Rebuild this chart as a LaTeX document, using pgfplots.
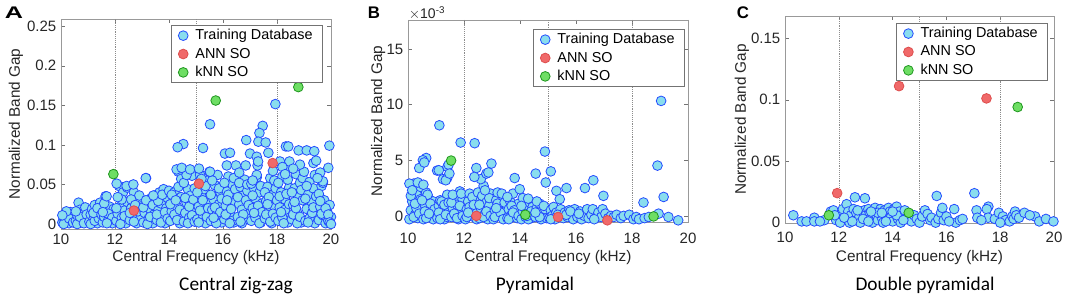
\documentclass[border=0pt]{standalone}
\usepackage{pgfplots}
\pgfplotsset{compat=1.18}
\usepackage{fontspec}
\setmainfont{Liberation Sans}
\newfontfamily\calibri{Carlito}
\definecolor{tdfill}{RGB}{137,221,238}
\definecolor{tdedge}{RGB}{35,75,255}
\definecolor{annfill}{RGB}{240,105,105}
\definecolor{annedge}{RGB}{222,78,78}
\definecolor{knnfill}{RGB}{110,222,100}
\definecolor{knnedge}{RGB}{30,150,30}
\definecolor{txt}{RGB}{38,38,38}
\pgfplotsset{
  panel/.style={
    scale only axis, xmin=10, xmax=20, xtick={10,12,...,20},
    axis line style={black!40}, tick style={black!55},
    tick align=inside, major tick length=3pt,
    extra x ticks={12,15,18}, extra x tick labels={},
    extra x tick style={grid=major, major tick length=0pt},
    major grid style={densely dotted, black!45, line width=0.4pt},
    ticklabel style={font=\fontsize{11.25}{13}\selectfont, text=txt},
    label style={font=\fontsize{11.5}{13}\selectfont, text=txt},
    xlabel={Central Frequency (kHz)},
    ylabel={Normalized Band Gap},
    ylabel style={anchor=center, rotate=0},
    xlabel style={anchor=center},
    clip=false,
    scaled ticks=false,
    /pgf/number format/assume math mode=true,
    legend style={font=\fontsize{10.8}{12}\selectfont, draw=black!55, line width=0.5pt,
      inner xsep=5.5pt, inner ysep=1pt, row sep=0.6pt, text=black,
      /tikz/every odd column/.append style={column sep=3.5pt}},
    legend cell align=left,
  },
  td/.style={only marks, mark=*, mark size=3.65pt, mark options={fill=tdfill, draw=tdedge, line width=0.6pt}},
  ann/.style={only marks, mark=*, mark size=3.65pt, mark options={fill=annfill, draw=annedge, line width=0.6pt}},
  knn/.style={only marks, mark=*, mark size=3.65pt, mark options={fill=knnfill, draw=knnedge, line width=0.6pt}},
}
\begin{document}
\begin{tikzpicture}
\useasboundingbox (0,0) rectangle (798.75pt,225.75pt);
% ---------------- Panel A ----------------
\begin{axis}[panel, at={(45.75pt,54pt)}, anchor=south west,
  width=202.5pt, height=157.5pt,
  ymin=-0.0063, ymax=0.259,
  ytick={0,0.05,0.1,0.15,0.2,0.25}, yticklabels={0,0.05,0.1,0.15,0.2,0.25},
  xlabel style={at={(axis description cs:0.5,-0.138)}},
  ylabel style={at={(axis description cs:-0.167,0.5)}},
  legend style={at={(axis description cs:0.97,0.971)}, anchor=north east}]
\addplot[td] coordinates {
(10.05,0.002)(10.1,0.008)(10.15,0.013)(10.2,0.004)(10.25,0.010)(10.3,0.001)(10.35,0.015)(10.4,0.006)(10.45,0.012)(10.1,0.0)(10.3,0.007)(10.45,0.002)(10.2,0.016)(10.05,0.011)
(10.55,0.004)(10.6,0.011)(10.65,0.027)(10.7,0.018)(10.75,0.002)(10.8,0.008)(10.85,0.014)(10.9,0.021)(10.95,0.005)(10.6,0.0)(10.7,0.009)(10.85,0.001)(10.95,0.012)(10.55,0.016)
(11.05,0.003)(11.1,0.012)(11.15,0.019)(11.2,0.006)(11.25,0.024)(11.3,0.010)(11.35,0.001)(11.4,0.015)(11.45,0.027)(11.1,0.0)(11.25,0.004)(11.4,0.007)(11.2,0.014)(11.35,0.020)(11.5,0.012)
(11.55,0.002)(11.6,0.009)(11.65,0.035)(11.7,0.017)(11.75,0.005)(11.8,0.022)(11.85,0.012)(11.9,0.001)(11.95,0.019)(11.6,0.026)(11.75,0.013)(11.9,0.008)(11.55,0.015)(11.7,0.001)
(12.05,0.004)(12.1,0.013)(12.15,0.048)(12.2,0.022)(12.25,0.008)(12.3,0.040)(12.35,0.017)(12.4,0.001)(12.45,0.028)(12.05,0.020)(12.2,0.0)(12.35,0.010)(12.45,0.046)(12.25,0.031)(12.1,0.034)
(12.55,0.005)(12.6,0.020)(12.65,0.049)(12.7,0.040)(12.75,0.011)(12.8,0.001)(12.85,0.028)(12.9,0.036)(12.95,0.008)(12.55,0.014)(12.7,0.003)(12.85,0.016)(12.6,0.031)(12.95,0.022)(12.75,0.024)
(13.05,0.002)(13.1,0.014)(13.15,0.058)(13.2,0.025)(13.25,0.007)(13.3,0.019)(13.35,0.033)(13.4,0.001)(13.45,0.012)(13.05,0.021)(13.2,0.0)(13.3,0.009)(13.45,0.036)(13.15,0.030)(13.4,0.024)
(13.55,0.005)(13.6,0.017)(13.65,0.040)(13.7,0.026)(13.75,0.010)(13.8,0.044)(13.85,0.001)(13.9,0.020)(13.95,0.033)(13.55,0.012)(13.7,0.002)(13.85,0.015)(13.6,0.029)(13.95,0.007)(13.75,0.037)(14.0,0.042)
(14.05,0.004)(14.1,0.016)(14.15,0.028)(14.2,0.040)(14.25,0.009)(14.3,0.022)(14.35,0.066)(14.4,0.001)(14.45,0.034)(14.05,0.025)(14.2,0.012)(14.35,0.047)(14.1,0.037)(14.4,0.018)(14.25,0.030)(14.45,0.057)(14.3,0.005)
(14.55,0.003)(14.6,0.014)(14.65,0.027)(14.7,0.044)(14.75,0.008)(14.8,0.036)(14.85,0.061)(14.9,0.019)(14.95,0.045)(14.55,0.052)(14.6,0.033)(14.7,0.001)(14.75,0.022)(14.9,0.031)(14.65,0.062)(14.85,0.011)(14.95,0.003)
(15.05,0.006)(15.1,0.022)(15.15,0.062)(15.2,0.035)(15.25,0.012)(15.3,0.044)(15.35,0.001)(15.4,0.027)(15.45,0.055)(15.05,0.040)(15.15,0.017)(15.25,0.030)(15.35,0.048)(15.4,0.009)(15.1,0.002)(15.45,0.020)(15.2,0.057)
(15.55,0.004)(15.6,0.018)(15.65,0.031)(15.7,0.049)(15.75,0.011)(15.8,0.062)(15.85,0.025)(15.9,0.040)(15.95,0.002)(15.55,0.037)(15.6,0.055)(15.7,0.021)(15.75,0.001)(15.85,0.045)(15.9,0.015)(15.65,0.008)(15.95,0.032)(15.5,0.066)
(16.05,0.006)(16.1,0.023)(16.15,0.041)(16.2,0.060)(16.25,0.014)(16.3,0.033)(16.35,0.050)(16.4,0.002)(16.45,0.027)(16.05,0.052)(16.1,0.012)(16.2,0.037)(16.3,0.019)(16.35,0.004)(16.45,0.044)(16.15,0.030)(16.4,0.058)(16.25,0.001)
(16.55,0.009)(16.6,0.025)(16.65,0.047)(16.7,0.001)(16.75,0.036)(16.8,0.056)(16.85,0.016)(16.9,0.042)(16.95,0.006)(16.55,0.034)(16.6,0.052)(16.7,0.018)(16.75,0.012)(16.85,0.030)(16.95,0.024)(16.65,0.003)(16.9,0.050)
(17.05,0.004)(17.1,0.020)(17.15,0.045)(17.2,0.032)(17.25,0.059)(17.3,0.011)(17.35,0.040)(17.4,0.002)(17.45,0.026)(17.05,0.051)(17.1,0.036)(17.2,0.008)(17.3,0.023)(17.4,0.048)(17.45,0.015)(17.15,0.014)(17.35,0.001)(17.25,0.062)
(17.55,0.007)(17.6,0.029)(17.65,0.047)(17.7,0.016)(17.75,0.058)(17.8,0.001)(17.85,0.037)(17.9,0.022)(17.95,0.045)(17.55,0.040)(17.6,0.012)(17.7,0.034)(17.75,0.003)(17.85,0.013)(17.9,0.055)(17.65,0.025)(17.95,0.008)(18.0,0.030)
(18.05,0.004)(18.1,0.021)(18.15,0.040)(18.2,0.060)(18.25,0.012)(18.3,0.031)(18.35,0.069)(18.4,0.002)(18.45,0.046)(18.05,0.052)(18.1,0.035)(18.2,0.008)(18.3,0.018)(18.35,0.038)(18.45,0.025)(18.15,0.015)(18.4,0.056)(18.25,0.001)
(18.55,0.006)(18.6,0.024)(18.65,0.045)(18.7,0.063)(18.75,0.014)(18.8,0.035)(18.85,0.052)(18.9,0.002)(18.95,0.030)(18.55,0.040)(18.6,0.012)(18.7,0.020)(18.75,0.001)(18.85,0.009)(18.95,0.058)(18.65,0.028)(18.9,0.043)(19.0,0.066)
(19.05,0.004)(19.1,0.019)(19.15,0.037)(19.2,0.053)(19.25,0.010)(19.3,0.027)(19.35,0.045)(19.4,0.001)(19.45,0.016)(19.05,0.032)(19.1,0.048)(19.2,0.007)(19.3,0.014)(19.35,0.021)(19.45,0.035)(19.15,0.002)(19.4,0.062)
(19.55,0.005)(19.6,0.022)(19.65,0.048)(19.7,0.011)(19.75,0.030)(19.8,0.001)(19.85,0.016)(19.9,0.004)(19.95,0.024)(20.0,0.009)(19.55,0.038)(19.65,0.013)(19.7,0.052)(19.8,0.020)(19.9,0.012)(19.95,0.002)(20.0,0.0)(19.6,0.029)
(17.94,0.1515)(15.52,0.126)(17.47,0.124)(17.35,0.115)(17.31,0.104)(17.58,0.103)(16.86,0.106)(14.53,0.101)(14.32,0.097)(15.26,0.096)(18.33,0.098)(18.42,0.098)(19.94,0.099)(18.8,0.093)(19.1,0.093)(19.38,0.092)(17.68,0.090)(16.07,0.089)(16.26,0.090)(17.0,0.089)(17.25,0.085)(16.14,0.074)(16.48,0.074)(16.84,0.074)(17.28,0.074)(17.3,0.079)(18.11,0.079)(18.46,0.079)(18.85,0.075)(19.35,0.077)(19.45,0.080)(19.9,0.071)(14.28,0.069)(14.47,0.071)(14.78,0.069)(15.11,0.070)(15.52,0.066)(13.14,0.058)(12.06,0.051)(12.43,0.048)(12.68,0.050)(11.69,0.035)(13.42,0.036)(18.2,0.072)(18.6,0.070)(19.6,0.065)(19.7,0.054)(19.5,0.058)(18.3,0.063)(17.85,0.067)(16.6,0.065)(17.1,0.055)
};
\addlegendentry{Training Database}
\addplot[ann] coordinates {(12.7,0.017)(15.11,0.051)(17.84,0.077)};
\addlegendentry{ANN SO}
\addplot[knn] coordinates {(11.94,0.063)(15.73,0.156)(18.79,0.173)};
\addlegendentry{kNN SO}
\end{axis}
% ---------------- Panel B ----------------
\begin{axis}[panel, at={(306pt,59.25pt)}, anchor=south west,
  width=210pt, height=151.5pt,
  ymin=-0.55, ymax=17.6,
  ytick={0,5,10,15},
  xticklabel style={yshift=-4.5pt},
  xlabel style={at={(axis description cs:0.5,-0.178)}},
  ylabel style={at={(axis description cs:-0.107,0.5)}},
  legend style={at={(axis description cs:0.989,0.955)}, anchor=north east}]
\addplot[td] coordinates {
(10.05,-0.3)(10.1,0.5)(10.15,1.3)(10.2,2.9)(10.25,0.1)(10.3,2.0)(10.35,-0.2)(10.4,0.9)(10.45,2.6)(10.1,1.8)(10.2,-0.1)(10.3,0.7)(10.45,1.5)(10.05,2.9)(10.35,3.0)(10.25,1.1)(10.4,0.2)(10.15,2.3)
(10.55,-0.3)(10.6,1.0)(10.65,2.1)(10.7,0.3)(10.75,1.5)(10.8,-0.1)(10.85,0.8)(10.9,1.3)(10.95,0.0)(10.55,2.8)(10.6,0.4)(10.7,1.9)(10.8,1.1)(10.9,-0.3)(10.95,0.6)(10.65,-0.2)(10.75,0.2)(10.5,1.4)
(11.05,-0.2)(11.1,0.9)(11.15,1.4)(11.2,0.2)(11.25,1.0)(11.3,-0.3)(11.35,0.6)(11.4,1.9)(11.45,0.0)(11.1,0.3)(11.2,1.3)(11.3,1.0)(11.4,-0.1)(11.45,1.2)(11.15,-0.3)(11.35,0.1)(11.25,3.3)
(11.55,-0.1)(11.6,0.7)(11.65,1.6)(11.7,0.0)(11.75,1.0)(11.8,-0.3)(11.85,2.2)(11.9,0.5)(11.95,1.5)(11.55,1.2)(11.65,0.2)(11.75,-0.2)(11.85,0.9)(11.95,0.0)(11.6,1.9)(11.9,2.0)
(12.05,-0.3)(12.1,0.6)(12.15,1.3)(12.2,2.0)(12.25,0.1)(12.3,0.9)(12.35,-0.1)(12.4,1.5)(12.45,0.4)(12.1,-0.1)(12.2,0.8)(12.3,1.7)(12.45,-0.3)(12.15,0.3)(12.35,1.0)(12.5,2.1)
(12.55,-0.2)(12.6,0.7)(12.65,1.8)(12.7,2.7)(12.75,0.2)(12.8,1.2)(12.85,-0.3)(12.9,0.9)(12.95,2.0)(12.6,3.3)(12.7,-0.1)(12.8,0.4)(12.9,1.6)(12.55,1.0)(12.75,2.3)(12.95,0.0)
(13.05,-0.3)(13.1,0.5)(13.15,1.4)(13.2,2.1)(13.25,0.1)(13.3,0.9)(13.35,-0.1)(13.4,1.7)(13.45,0.4)(13.1,-0.1)(13.2,1.1)(13.3,0.3)(13.4,-0.3)(13.45,1.2)(13.15,0.7)(13.35,2.0)
(13.55,-0.2)(13.6,0.6)(13.65,1.3)(13.7,0.1)(13.75,2.0)(13.8,-0.1)(13.85,0.8)(13.9,0.3)(13.95,1.1)(13.6,-0.3)(13.7,0.9)(13.8,0.5)(13.9,-0.2)(13.55,1.7)(13.75,0.3)(13.95,0.0)
(14.05,-0.3)(14.1,0.4)(14.15,1.0)(14.2,-0.1)(14.25,0.6)(14.3,0.2)(14.35,1.2)(14.4,-0.2)(14.45,0.8)(14.1,1.6)(14.3,-0.3)(14.4,0.4)(14.05,0.9)(14.25,0.0)
(14.55,-0.1)(14.6,0.7)(14.65,0.2)(14.7,1.1)(14.75,-0.3)(14.8,0.4)(14.85,0.0)(14.9,0.6)(14.95,-0.2)(14.6,1.3)(14.7,-0.1)(14.85,0.9)(14.55,0.3)
(15.05,-0.2)(15.1,0.5)(15.15,0.0)(15.2,0.8)(15.25,-0.3)(15.3,0.3)(15.4,-0.1)(15.45,0.6)(15.1,-0.3)(15.35,0.1)
(15.55,-0.2)(15.6,0.3)(15.7,-0.1)(15.75,0.5)(15.85,0.0)(15.9,-0.3)(15.95,0.6)(15.65,0.1)(15.8,0.4)
(16.05,-0.1)(16.15,0.4)(16.2,-0.3)(16.3,0.0)(16.4,0.6)(16.45,-0.2)(16.1,0.2)
(16.55,0.1)(16.6,0.6)(16.7,-0.2)(16.8,0.3)(16.9,-0.1)(16.95,0.6)(16.65,-0.3)
(17.05,0.2)(17.15,-0.2)(17.25,0.0)(17.35,-0.1)(17.45,0.1)
(17.6,-0.2)(17.7,0.0)(17.9,0.1)
(18.05,-0.3)(18.15,-0.1)(18.25,-0.3)(18.45,-0.2)
(18.6,-0.1)(18.95,0.2)
(19.3,-0.1)(19.65,-0.4)
(19.04,10.33)(11.12,8.14)(11.88,6.59)(12.38,6.53)(18.91,4.52)(14.89,5.78)(10.65,5.2)(10.53,5.0)(10.4,4.3)(10.58,4.8)(11.04,4.07)(11.41,4.4)(11.45,4.6)(12.44,4.3)(12.98,4.7)(12.8,3.8)(12.87,3.9)(14.56,3.8)(15.1,4.0)(14.92,3.0)(13.81,3.4)(12.37,3.5)(16.62,3.2)(16.32,2.5)(15.66,2.5)(15.3,2.25)(15.42,1.5)(16.98,1.8)(19.13,1.7)(18.41,1.2)(13.99,2.4)(14.29,1.55)(11.4,3.4)(11.35,3.2)(11.48,3.8)(11.1,4.1)
};
\addlegendentry{Training Database}
\addplot[ann] coordinates {(12.44,0.0)(15.36,-0.1)(17.12,-0.4)};
\addlegendentry{ANN SO}
\addplot[knn] coordinates {(11.54,4.97)(14.19,0.1)(18.77,-0.05)};
\addlegendentry{kNN SO}
\end{axis}
% ---------------- Panel C ----------------
\begin{axis}[panel, at={(588.75pt,58.5pt)}, anchor=south west,
  width=201.75pt, height=155.25pt,
  ymin=-0.0003, ymax=0.168,
  ytick={0,0.05,0.1,0.15}, yticklabels={0,0.05,0.1,0.15},
  xticklabel style={yshift=-3pt},
  xlabel style={at={(axis description cs:0.5,-0.169)}},
  ylabel style={at={(axis description cs:-0.16,0.5)}},
  legend style={at={(axis description cs:0.978,0.966)}, anchor=north east}]
\addplot[td] coordinates {
(10.31,0.006)(10.62,0.001)(10.8,0.001)(11.09,0.004)(11.09,0.001)(11.46,0.002)(11.3,0.001)
(11.7,0.009)(11.8,0.010)(11.9,0.002)(12.0,0.006)(12.05,0.0)(12.1,0.008)(12.15,0.011)(12.29,0.015)(12.3,0.003)(12.35,0.009)(12.4,0.0)(12.45,0.006)(12.6,0.0206)(12.55,0.011)(12.6,0.002)(12.65,0.008)(12.75,0.004)(12.8,0.0)(12.97,0.0198)(12.95,0.010)
(13.0,0.006)(13.05,0.002)(13.1,0.011)(13.15,0.008)(13.2,0.004)(13.25,0.0)(13.3,0.010)(13.35,0.012)(13.4,0.006)(13.45,0.002)(13.5,0.009)(13.55,0.011)(13.6,0.004)(13.65,0.0)(13.7,0.010)(13.75,0.007)(13.8,0.003)(13.85,0.012)(13.9,0.009)(13.95,0.005)
(14.0,0.001)(14.05,0.011)(14.1,0.007)(14.15,0.013)(14.2,0.003)(14.25,0.009)(14.3,0.0)(14.35,0.005)(14.45,0.010)(14.5,0.003)(14.7,0.001)(14.8,0.006)(14.9,0.003)
(11.85,0.006)(12.2,0.004)(12.5,0.001)(12.9,0.003)(13.1,0.001)(13.45,0.008)(13.75,0.001)(14.15,0.006)(14.4,0.002)(12.7,0.010)(13.2,0.009)(13.6,0.008)(14.0,0.009)
(15.0,0.0)(15.1,0.005)(15.2,0.010)(15.3,0.007)(15.4,0.002)(15.45,0.004)(15.64,0.0217)(15.6,0.0)(15.7,0.003)(15.8,0.008)(15.85,0.012)(15.9,0.002)(16.0,0.005)(16.29,0.011)(16.35,0.0)(16.5,0.002)(16.6,0.003)(16.1,0.001)
(17.04,0.0239)(17.12,0.010)(17.15,0.004)(17.56,0.013)(17.5,0.011)(17.55,0.004)(17.8,0.003)(17.95,0.008)(18.1,0.005)(18.2,0.002)(18.35,0.001)(18.45,0.005)(18.5,0.003)(18.55,0.009)(18.6,0.006)(18.7,0.004)(18.9,0.008)(19.3,0.005)(19.45,0.001)(19.7,0.003)(19.98,0.001)(17.3,0.002)(18.0,0.0)(19.1,0.006)
};
\addlegendentry{Training Database}
\addplot[ann] coordinates {(14.24,0.111)(17.49,0.101)(11.94,0.024)};
\addlegendentry{ANN SO}
\addplot[knn] coordinates {(18.65,0.094)(11.63,0.006)(14.6,0.008)};
\addlegendentry{kNN SO}
\end{axis}
% ---------------- Texts ----------------
\node[font=\fontsize{12.6}{14}\selectfont\bfseries] at (10.5pt,216pt) {\scalebox{1.5}[1]{A}};
\node[font=\fontsize{12.6}{14}\selectfont\bfseries] at (280.5pt,216pt) {B};
\node[font=\fontsize{12.6}{14}\selectfont\bfseries] at (557.25pt,216.5pt) {C};
\node[font=\fontsize{10.5}{12}\selectfont, text=txt] at (320.25pt,216pt) {$\times$10\textsuperscript{-3}};
\node[font=\calibri\fontsize{14.5}{16}\selectfont] at (177pt,12pt) {Central zig-zag};
\node[font=\calibri\fontsize{14.5}{16}\selectfont] at (401.25pt,12pt) {Pyramidal};
\node[font=\calibri\fontsize{14.5}{16}\selectfont] at (693.75pt,12pt) {Double pyramidal};
\end{tikzpicture}
\end{document}
